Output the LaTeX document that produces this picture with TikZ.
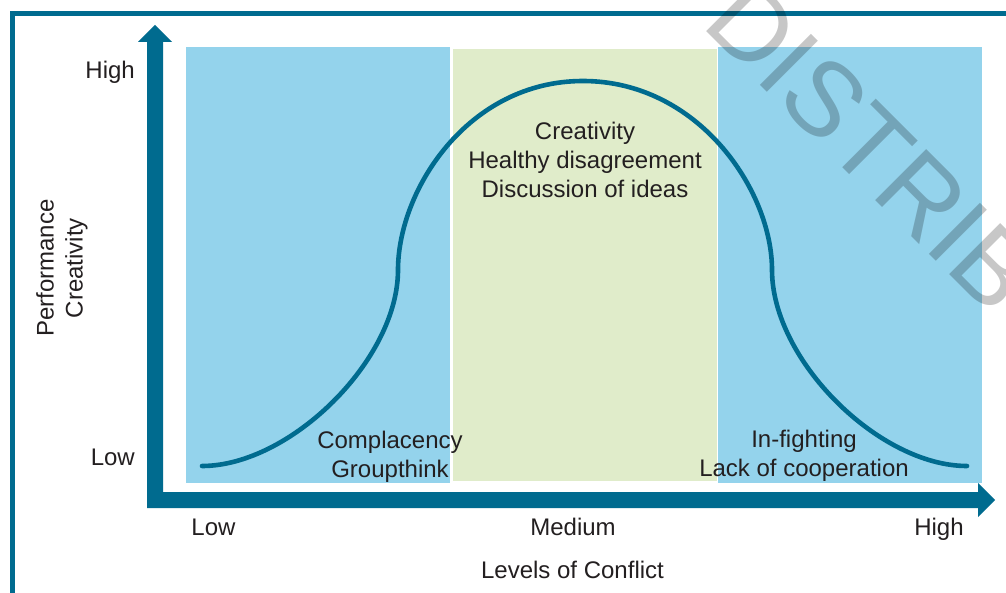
\documentclass[tikz,border=0pt]{standalone}
\usepackage{fontspec}
\setmainfont{Liberation Sans}
\definecolor{teal}{HTML}{006B8F}
\definecolor{zoneblue}{HTML}{94D3EC}
\definecolor{zonegreen}{HTML}{E0ECCA}
\definecolor{txt}{HTML}{231F20}
\tikzset{
  lbl/.style={font=\fontsize{24}{29}\selectfont, text=txt, inner sep=0pt, align=center},
  curveline/.style={draw=teal, line width=4.6pt, line cap=round},
  axisfill/.style={fill=teal, draw=none},
  framebar/.style={draw=teal, line width=4.5pt},
  wmark/.style={font=\fontsize{105}{110}\selectfont, text=black, text opacity=0.22, inner sep=0pt}
}
\begin{document}
\begin{tikzpicture}[x=1pt,y=-1pt]
\useasboundingbox (0,0) rectangle (1006,593);
\clip (0,0) rectangle (1006,593);
\fill[white] (0,0) rectangle (1006,593);
% zones
\fill[zoneblue] (186,47) rectangle (450,483);
\fill[zonegreen] (453,49) rectangle (717,481);
\fill[zoneblue] (718,47) rectangle (982,483);
% curve
\coordinate (c0) at (202,466);
\coordinate (cl) at (398,270);
\coordinate (cp) at (583,81);
\coordinate (cr) at (772,270);
\coordinate (c1) at (967,466);
\draw[curveline] (c0) .. controls (290,466) and (398,360) .. (cl)
  .. controls (398,190) and (468,81) .. (cp)
  .. controls (698,81) and (772,190) .. (cr)
  .. controls (772,360) and (879,466) .. (c1);
% zone texts
\node[lbl] (mid) at (585,159.5) {Creativity\\Healthy disagreement\\Discussion of ideas};
\node[lbl] (low) at (390,456.5) {Complacency\\Groupthink};
\node[lbl] (high) at (804,455.5) {In-fighting\\Lack of cooperation};
% axes
\fill[axisfill] (147,508) -- (147,42) -- (138,42) -- (155,25) -- (172,42) -- (163,42)
  -- (163,492) -- (978,492) -- (978,483) -- (995,500) -- (978,517) -- (978,508) -- cycle;
% axis labels
\node[lbl, anchor=base east] (yhigh) at (135,79) {High};
\node[lbl, anchor=base east] (ylow) at (135,465) {Low};
\node[lbl, rotate=90] (ytitle) at (62,268) {Performance\\Creativity};
\node[lbl, anchor=base] (xlow) at (213.5,535) {Low};
\node[lbl, anchor=base] (xmed) at (573,535) {Medium};
\node[lbl, anchor=base] (xhigh) at (939,535) {High};
\node[lbl, anchor=base] (xtitle) at (572.5,578) {Levels of Conflict};
% frame
\draw[framebar] (1010,13.5) -- (12.5,13.5) -- (12.5,600);
% watermark
\node[wmark, anchor=base west, rotate=-45] (wm) at (700,25) {DISTRIBU};
\end{tikzpicture}
\end{document}
